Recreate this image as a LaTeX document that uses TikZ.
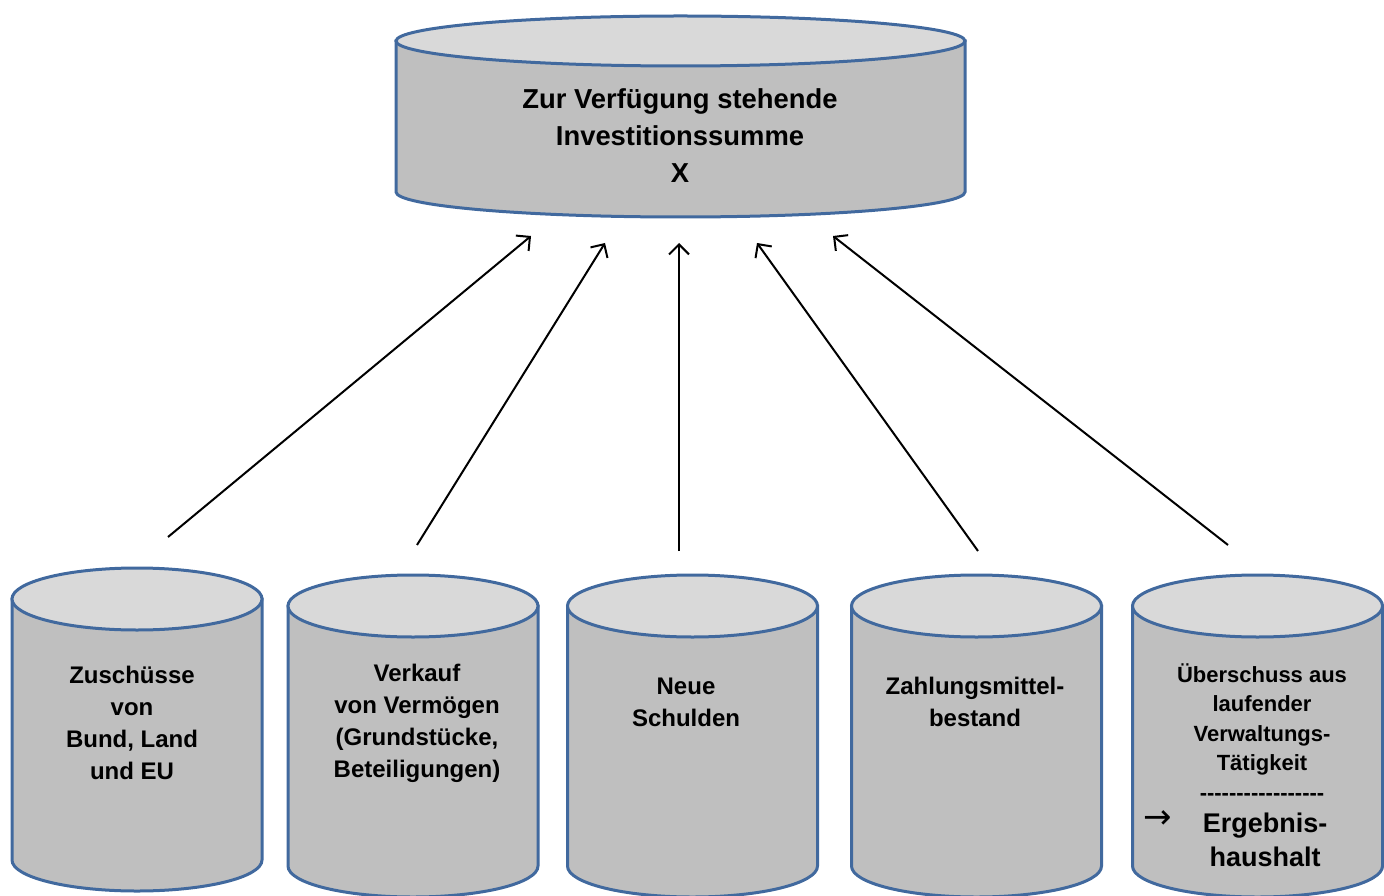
\documentclass[tikz,border=0pt]{standalone}
\usepackage{fontspec}
\setmainfont{Liberation Sans}
\newfontfamily\symfont{DejaVu Sans}
\usetikzlibrary{arrows.meta}
\definecolor{rim}{HTML}{41699E}
\definecolor{side}{HTML}{BFBFBF}
\definecolor{lid}{HTML}{D9D9D9}
\tikzset{
  cylside/.style={fill=side, draw=rim, line width=1.5pt},
  cyltop/.style={fill=lid, draw=rim, line width=1.5pt},
  lbl/.style={align=center, font=\bfseries\fontsize{12}{16}\selectfont, inner sep=0pt},
  flow/.style={draw=black, line width=1pt, -{Straight Barb[length=5pt,width=10pt]}}
}
\begin{document}
\begin{tikzpicture}[x=0.5pt,y=0.5pt]
\useasboundingbox (0,0) rectangle (1384,895);
% top cylinder
\path[cylside] (396,854) -- (396,703) arc[start angle=180,end angle=360,x radius=142.25pt,y radius=12.5pt] -- (965,854) -- cycle;
\path[cyltop] (680.5,854) ellipse[x radius=142.25pt, y radius=12.5pt];
% bottom cylinders
\path[cylside] (12,296) -- (12,35) arc[start angle=180,end angle=360,x radius=62.5pt,y radius=15.5pt] -- (262,296) -- cycle;
\path[cyltop] (137,296) ellipse[x radius=62.5pt, y radius=15.5pt];
\path[cylside] (288,289) -- (288,29) arc[start angle=180,end angle=360,x radius=62.5pt,y radius=15.5pt] -- (538,289) -- cycle;
\path[cyltop] (413,289) ellipse[x radius=62.5pt, y radius=15.5pt];
\path[cylside] (567.5,289) -- (567.5,29) arc[start angle=180,end angle=360,x radius=62.5pt,y radius=15.5pt] -- (817.5,289) -- cycle;
\path[cyltop] (692.5,289) ellipse[x radius=62.5pt, y radius=15.5pt];
\path[cylside] (851.5,289) -- (851.5,29) arc[start angle=180,end angle=360,x radius=62.5pt,y radius=15.5pt] -- (1101.5,289) -- cycle;
\path[cyltop] (976.5,289) ellipse[x radius=62.5pt, y radius=15.5pt];
\path[cylside] (1132.5,289) -- (1132.5,29) arc[start angle=180,end angle=360,x radius=62.5pt,y radius=15.5pt] -- (1382.5,289) -- cycle;
\path[cyltop] (1257.5,289) ellipse[x radius=62.5pt, y radius=15.5pt];
% texts
\node[lbl, font=\bfseries\fontsize{13.7}{18.5}\selectfont] (top) at (680,759) {Zur Verfügung stehende\\Investitionssumme\\X};
\node[lbl] (c1) at (132,172) {Zuschüsse\\von\\Bund, Land\\und EU};
\node[lbl] (c2) at (417,172) {Verkauf\\von Vermögen\\(Grundstücke,\\Beteiligungen)};
\node[lbl] (c3) at (686,193) {Neue\\Schulden};
\node[lbl] (c4) at (975,193) {Zahlungsmittel-\\bestand};
\node[lbl, font=\bfseries\fontsize{11}{14.75}\selectfont] (c5) at (1262,163) {Überschuss aus\\laufender\\Verwaltungs-\\Tätigkeit\\-{}-{}-{}-{}-{}-{}-{}-{}-{}-{}-{}-{}-{}-{}-{}-{}-};
\node[lbl, font=\bfseries\fontsize{13.5}{17}\selectfont] (c5b) at (1265,55) {Ergebnis-\\haushalt};
\node[inner sep=0pt, font=\symfont\fontsize{17}{18}\selectfont] (arr) at (1158,75) {→};
% arrow ends
\coordinate (s1) at (168,358); \coordinate (e1) at (531,659);
\coordinate (s2) at (417,350); \coordinate (e2) at (605,652);
\coordinate (s3) at (679,344); \coordinate (e3) at (679,652);
\coordinate (s4) at (978,344); \coordinate (e4) at (757,652);
\coordinate (s5) at (1228,350); \coordinate (e5) at (833,659);
\draw[flow] (s1) -- (e1);
\draw[flow] (s2) -- (e2);
\draw[flow] (s3) -- (e3);
\draw[flow] (s4) -- (e4);
\draw[flow] (s5) -- (e5);
\end{tikzpicture}
\end{document}
